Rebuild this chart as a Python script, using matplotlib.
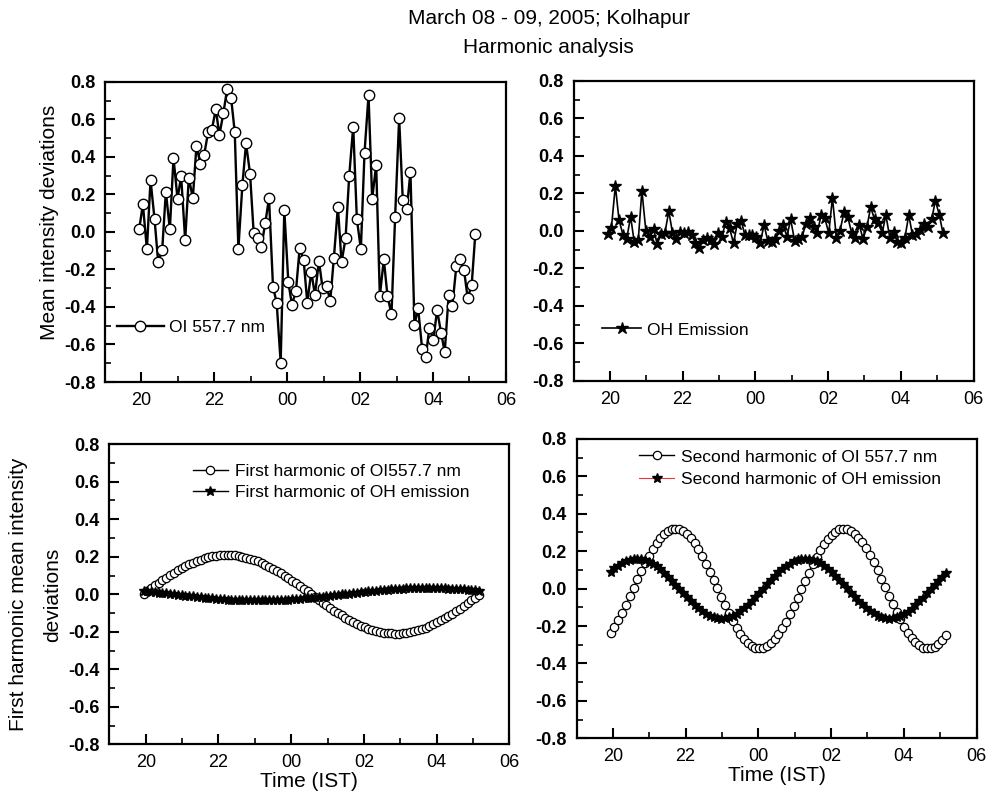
import matplotlib
matplotlib.use("Agg")
import matplotlib.pyplot as plt
from matplotlib.ticker import MultipleLocator

plt.rcParams['font.family'] = ['Liberation Sans', 'DejaVu Sans']
plt.rcParams['axes.unicode_minus'] = False

# time in hours after 00 of March 08 (24 = midnight)
time_ist = [19.94, 20.04, 20.15, 20.25, 20.36, 20.46, 20.57, 20.67, 20.78, 20.88,
            20.99, 21.09, 21.20, 21.30, 21.41, 21.51, 21.62, 21.72, 21.83, 21.93,
            22.04, 22.14, 22.25, 22.35, 22.46, 22.56, 22.66, 22.77, 22.87, 22.98,
            23.08, 23.19, 23.29, 23.40, 23.50, 23.61, 23.71, 23.82, 23.92, 24.03,
            24.13, 24.24, 24.34, 24.45, 24.55, 24.66, 24.76, 24.87, 24.97, 25.08,
            25.18, 25.28, 25.39, 25.49, 25.60, 25.70, 25.81, 25.91, 26.02, 26.12,
            26.23, 26.33, 26.44, 26.54, 26.65, 26.75, 26.86, 26.96, 27.07, 27.17,
            27.28, 27.38, 27.49, 27.59, 27.70, 27.80, 27.90, 28.01, 28.11, 28.22,
            28.32, 28.43, 28.53, 28.64, 28.74, 28.85, 28.95, 29.06, 29.16]

oi_dev = [0.016, 0.148, -0.092, 0.277, 0.069, -0.162, -0.096, 0.215, 0.014, 0.395,
          0.178, 0.297, -0.043, 0.29, 0.18, 0.459, 0.361, 0.41, 0.533, 0.544,
          0.654, 0.517, 0.636, 0.761, 0.715, 0.533, -0.089, 0.251, 0.473, 0.311,
          -0.007, -0.034, -0.078, 0.05, 0.181, -0.293, -0.377, -0.697, 0.115, -0.267,
          -0.389, -0.313, -0.087, -0.149, -0.377, -0.212, -0.336, -0.155, -0.300, -0.288,
          -0.368, -0.137, 0.135, -0.162, -0.034, 0.299, 0.562, 0.069, -0.092, 0.423,
          0.729, 0.178, 0.357, -0.341, -0.146, -0.341, -0.439, 0.082, 0.606, 0.171,
          0.121, 0.32, -0.496, -0.405, -0.622, -0.665, -0.51, -0.576, -0.416, -0.537,
          -0.64, -0.334, -0.395, -0.18, -0.146, -0.203, -0.352, -0.283, -0.009]

oh_dev = [-0.018, 0.014, 0.242, 0.059, -0.021, -0.043, 0.076, -0.06, -0.048, 0.215,
          -0.002, -0.03, 0.011, -0.069, -0.018, -0.012, 0.105, -0.009, -0.041, -0.004,
          -0.009, -0.007, -0.021, -0.064, -0.092, -0.05, -0.04, -0.05, -0.069, -0.012,
          -0.03, 0.05, 0.016, -0.066, 0.037, 0.055, -0.021, -0.023, -0.021, -0.034,
          -0.066, 0.032, -0.052, -0.06, -0.045, 0.0, 0.032, -0.03, 0.062, -0.052,
          -0.044, -0.034, 0.037, 0.068, 0.02, -0.012, 0.085, 0.068, -0.012, 0.178,
          -0.039, 0.002, 0.103, 0.076, -0.012, -0.039, 0.032, -0.044, 0.023, 0.126,
          0.062, 0.041, -0.009, 0.085, -0.039, -0.004, -0.057, -0.062, -0.039, 0.085,
          -0.021, -0.016, 0.005, 0.037, 0.023, 0.062, 0.162, 0.085, -0.012]

oi_first = [0.003, 0.018, 0.033, 0.047, 0.062, 0.076, 0.089, 0.103, 0.116, 0.128,
            0.139, 0.150, 0.160, 0.169, 0.178, 0.185, 0.192, 0.197, 0.202, 0.206,
            0.208, 0.210, 0.210, 0.209, 0.208, 0.205, 0.201, 0.196, 0.190, 0.184,
            0.176, 0.168, 0.158, 0.148, 0.137, 0.125, 0.113, 0.100, 0.087, 0.073,
            0.059, 0.044, 0.030, 0.015, 0.000, -0.015, -0.030, -0.045, -0.059, -0.073,
            -0.087, -0.100, -0.113, -0.126, -0.137, -0.148, -0.158, -0.168, -0.176, -0.184,
            -0.191, -0.196, -0.201, -0.205, -0.208, -0.209, -0.210, -0.210, -0.208, -0.206,
            -0.202, -0.197, -0.192, -0.185, -0.178, -0.169, -0.160, -0.150, -0.139, -0.127,
            -0.115, -0.103, -0.089, -0.076, -0.061, -0.047, -0.033, -0.018, -0.003]

oh_first = [0.018, 0.016, 0.014, 0.012, 0.009, 0.007, 0.005, 0.003, 0.000, -0.002,
            -0.004, -0.007, -0.009, -0.011, -0.013, -0.016, -0.018, -0.020, -0.021, -0.023,
            -0.025, -0.026, -0.028, -0.029, -0.030, -0.031, -0.032, -0.032, -0.033, -0.033,
            -0.033, -0.033, -0.033, -0.032, -0.032, -0.031, -0.030, -0.029, -0.028, -0.027,
            -0.025, -0.024, -0.022, -0.020, -0.018, -0.016, -0.014, -0.012, -0.010, -0.008,
            -0.005, -0.003, -0.001, 0.002, 0.004, 0.006, 0.009, 0.011, 0.013, 0.015,
            0.017, 0.019, 0.021, 0.023, 0.024, 0.026, 0.027, 0.029, 0.030, 0.031,
            0.031, 0.032, 0.033, 0.033, 0.033, 0.033, 0.033, 0.032, 0.032, 0.031,
            0.030, 0.029, 0.028, 0.027, 0.026, 0.024, 0.022, 0.021, 0.019]

oi_second = [-0.239, -0.206, -0.169, -0.129, -0.086, -0.042, 0.004, 0.049, 0.093, 0.136,
             0.176, 0.212, 0.244, 0.271, 0.292, 0.308, 0.317, 0.320, 0.316, 0.307,
             0.291, 0.269, 0.241, 0.209, 0.172, 0.133, 0.090, 0.046, 0.001, -0.045,
             -0.089, -0.132, -0.172, -0.209, -0.241, -0.268, -0.290, -0.306, -0.316, -0.320,
             -0.317, -0.308, -0.292, -0.271, -0.244, -0.212, -0.176, -0.136, -0.094, -0.050,
             -0.004, 0.041, 0.085, 0.129, 0.169, 0.206, 0.238, 0.266, 0.289, 0.305,
             0.316, 0.320, 0.318, 0.309, 0.294, 0.273, 0.247, 0.215, 0.179, 0.140,
             0.098, 0.053, 0.008, -0.037, -0.082, -0.125, -0.165, -0.203, -0.236, -0.264,
             -0.287, -0.304, -0.315, -0.320, -0.318, -0.310, -0.295, -0.275, -0.249]

oh_second = [0.090, 0.108, 0.123, 0.137, 0.147, 0.155, 0.159, 0.160, 0.158, 0.153,
             0.144, 0.133, 0.119, 0.103, 0.084, 0.064, 0.043, 0.020, -0.003, -0.025,
             -0.047, -0.068, -0.088, -0.106, -0.122, -0.136, -0.146, -0.154, -0.159, -0.160,
             -0.158, -0.153, -0.145, -0.134, -0.120, -0.104, -0.086, -0.066, -0.045, -0.022,
             0.000, 0.023, 0.045, 0.067, 0.086, 0.105, 0.121, 0.134, 0.145, 0.153,
             0.158, 0.160, 0.159, 0.154, 0.146, 0.135, 0.122, 0.106, 0.088, 0.068,
             0.047, 0.024, 0.002, -0.021, -0.043, -0.065, -0.085, -0.103, -0.119, -0.133,
             -0.145, -0.153, -0.158, -0.160, -0.159, -0.154, -0.147, -0.136, -0.123, -0.107,
             -0.089, -0.069, -0.048, -0.026, -0.004, 0.019, 0.041, 0.063, 0.083]

hour_ticks = [20, 22, 24, 26, 28, 30]
hour_labels = ['20', '22', '00', '02', '04', '06']


def style_axes(ax):
    ax.set_xlim(19, 30)
    ax.set_ylim(-0.8, 0.8)
    ax.set_xticks(hour_ticks)
    ax.set_xticklabels(hour_labels)
    ax.xaxis.set_minor_locator(MultipleLocator(1))
    ax.yaxis.set_major_locator(MultipleLocator(0.2))
    ax.yaxis.set_minor_locator(MultipleLocator(0.1))
    ax.yaxis.set_major_formatter(plt.FormatStrFormatter('%.1f'))
    ax.tick_params(which='major', direction='in', length=7, width=1.5, labelsize=13, pad=7)
    ax.tick_params(which='minor', direction='in', length=4, width=1.2)
    ax.tick_params(top=False, right=False)
    for lab in ax.get_yticklabels():
        lab.set_fontweight('bold')
    for sp in ax.spines.values():
        sp.set_linewidth(1.6)


fig = plt.figure(figsize=(9.94, 7.99), dpi=100)
ax1 = fig.add_axes([0.1056, 0.5219, 0.4034, 0.3755])
ax2 = fig.add_axes([0.577, 0.5232, 0.4024, 0.3755])
ax3 = fig.add_axes([0.110, 0.0685, 0.4024, 0.3755])
ax4 = fig.add_axes([0.580, 0.0760, 0.4024, 0.3747])

leg_kw = dict(frameon=False, fontsize=12.5, borderpad=0, borderaxespad=0)

# top left: raw OI deviations
ax1.plot(time_ist, oi_dev, color='black', lw=1.7, marker='o', ms=7.5,
         mfc='white', mec='black', mew=1.0, label='OI 557.7 nm')
ax1.legend(loc='center left', bbox_to_anchor=(0.03, 0.183), handlelength=2.7,
           handletextpad=0.3, **leg_kw)

# top right: raw OH deviations
ax2.plot(time_ist, oh_dev, color='black', lw=1.2, marker='*', ms=9,
         mfc='black', mec='black', label='OH Emission')
ax2.legend(loc='center left', bbox_to_anchor=(0.07, 0.17), handlelength=2.3,
           handletextpad=0.3, **leg_kw)

# bottom left: first harmonic
ax3.plot(time_ist, oi_first, color='black', lw=1.0, marker='o', ms=6,
         mfc='white', mec='black', mew=0.9, label='First harmonic of OI557.7 nm')
ax3.plot(time_ist, oh_first, color='black', lw=1.0, marker='*', ms=7,
         mfc='black', mec='black', label='First harmonic of OH emission')
ax3.legend(loc='upper left', bbox_to_anchor=(0.209, 0.935), handlelength=2.0,
           handletextpad=0.4, labelspacing=0.36, **leg_kw)

# bottom right: second harmonic
ax4.plot(time_ist, oi_second, color='black', lw=1.0, marker='o', ms=6,
         mfc='white', mec='black', mew=0.9, label='Second harmonic of OI 557.7 nm')
ax4.plot(time_ist, oh_second, color='#e8383d', lw=0.8, marker='*', ms=7,
         mfc='black', mec='black', label='Second harmonic of OH emission')
ax4.legend(loc='upper left', bbox_to_anchor=(0.157, 0.965), handlelength=2.0,
           handletextpad=0.4, labelspacing=0.4, **leg_kw)

for ax in (ax1, ax2, ax3, ax4):
    style_axes(ax)

ax3.set_xlabel('Time (IST)', fontsize=15, labelpad=1)
ax4.set_xlabel('Time (IST)', fontsize=15, labelpad=1)

fig.text(0.050, 0.722, 'Mean intensity deviations', rotation=90,
         ha='center', va='center', fontsize=15)
fig.text(0.019, 0.256, 'First harmonic mean intensity', rotation=90,
         ha='center', va='center', fontsize=15)
fig.text(0.053, 0.256, 'deviations', rotation=90,
         ha='center', va='center', fontsize=15)

fig.text(0.552, 0.977, 'March 08 - 09, 2005; Kolhapur', ha='center', va='center', fontsize=15)
fig.text(0.552, 0.941, 'Harmonic analysis', ha='center', va='center', fontsize=15)

fig.savefig('out.png', dpi=100)
